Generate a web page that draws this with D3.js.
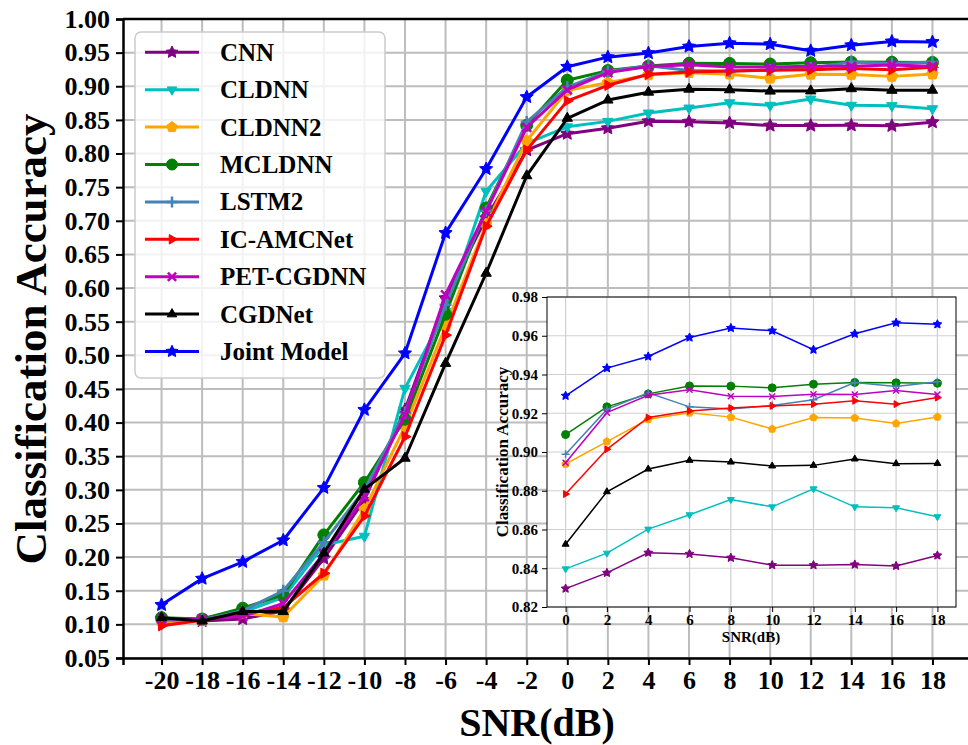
<!DOCTYPE html>
<html lang="en">
<head>
<meta charset="UTF-8">
<title>Classification Accuracy vs SNR</title>
<script src="https://d3js.org/d3.v7.min.js"></script>
<style>
  body { margin: 0; background: #fff; }
  text { font-family: "Liberation Serif", "Times New Roman", serif; font-weight: bold; }
</style>
</head>
<body>
<div id="chart"></div>
<script>
// SNR values (dB)
const snr = [-20, -18, -16, -14, -12, -10, -8, -6, -4, -2, 0, 2, 4, 6, 8, 10, 12, 14, 16, 18];
const insetSnr = [0, 2, 4, 6, 8, 10, 12, 14, 16, 18];

// accuracy per model
const cnn      = [0.108, 0.105, 0.108, 0.120, 0.198, 0.285, 0.419, 0.585, 0.704, 0.805, 0.8295, 0.8376, 0.8480, 0.8474, 0.8454, 0.8416, 0.8416, 0.8419, 0.8412, 0.8466];
const cldnn    = [0.100, 0.109, 0.118, 0.140, 0.218, 0.231, 0.451, 0.565, 0.744, 0.815, 0.8397, 0.8478, 0.8602, 0.8676, 0.8755, 0.8717, 0.8810, 0.8717, 0.8712, 0.8666];
const cldnn2   = [0.104, 0.106, 0.116, 0.111, 0.173, 0.271, 0.394, 0.543, 0.695, 0.819, 0.8938, 0.9054, 0.9169, 0.9202, 0.9180, 0.9119, 0.9178, 0.9176, 0.9147, 0.9181];
const mcldnn   = [0.110, 0.108, 0.124, 0.144, 0.233, 0.311, 0.405, 0.561, 0.719, 0.842, 0.9090, 0.9233, 0.9300, 0.9341, 0.9340, 0.9331, 0.9350, 0.9359, 0.9357, 0.9355];
const lstm2    = [0.106, 0.107, 0.120, 0.150, 0.222, 0.300, 0.415, 0.575, 0.715, 0.847, 0.8988, 0.9220, 0.9305, 0.9233, 0.9222, 0.9240, 0.9270, 0.9359, 0.9338, 0.9362];
const icamcnet = [0.098, 0.106, 0.116, 0.125, 0.176, 0.261, 0.379, 0.530, 0.692, 0.805, 0.8783, 0.9014, 0.9178, 0.9212, 0.9227, 0.9238, 0.9247, 0.9264, 0.9247, 0.9281];
const petcgdnn = [0.108, 0.108, 0.112, 0.131, 0.205, 0.290, 0.411, 0.590, 0.714, 0.839, 0.8945, 0.9203, 0.9293, 0.9321, 0.9288, 0.9286, 0.9298, 0.9297, 0.9317, 0.9297];
const cgdnet   = [0.110, 0.105, 0.119, 0.119, 0.206, 0.301, 0.347, 0.488, 0.622, 0.767, 0.8524, 0.8795, 0.8912, 0.8957, 0.8948, 0.8928, 0.8931, 0.8964, 0.8940, 0.8941];
const joint    = [0.129, 0.168, 0.193, 0.225, 0.303, 0.419, 0.503, 0.682, 0.777, 0.884, 0.9290, 0.9433, 0.9493, 0.9591, 0.9640, 0.9626, 0.9528, 0.9610, 0.9667, 0.9659];

const names = ["CNN", "CLDNN", "CLDNN2", "MCLDNN", "LSTM2", "IC-AMCNet", "PET-CGDNN", "CGDNet", "Joint Model"];
const values = [cnn, cldnn, cldnn2, mcldnn, lstm2, icamcnet, petcgdnn, cgdnet, joint];

const yTicks = d3.range(0.05, 1.0001, 0.05);
const insetYTicks = [0.82, 0.84, 0.86, 0.88, 0.90, 0.92, 0.94, 0.96, 0.98];

// styling
const colors = ["#800080", "#00bfbf", "#ffa500", "#008000", "#4682b4", "#ff0000", "#bf00bf", "#000000", "#0000ff"];
const markers = ["star", "triDown", "pentagon", "circle", "plus", "triRight", "x", "triUp", "star"];

const W = 968, H = 745;
const svg = d3.select("#chart").append("svg").attr("width", W).attr("height", H);

const x = d3.scaleLinear().domain([-21.9, 19.9]).range([123, 971]);
const y = d3.scaleLinear().domain([0.05, 1.0]).range([658, 19]);

function markerPath(type, r) {
  const p = d3.path();
  if (type === "circle") {
    p.arc(0, 0, r, 0, 2 * Math.PI);
  } else if (type === "star") {
    for (let i = 0; i < 10; i++) {
      const a = -Math.PI / 2 + i * Math.PI / 5;
      const rr = i % 2 === 0 ? r * 1.15 : r * 0.55;
      if (i === 0) p.moveTo(rr * Math.cos(a), rr * Math.sin(a)); else p.lineTo(rr * Math.cos(a), rr * Math.sin(a));
    }
    p.closePath();
  } else if (type === "pentagon") {
    for (let i = 0; i < 5; i++) {
      const a = -Math.PI / 2 + i * 2 * Math.PI / 5;
      if (i === 0) p.moveTo(r * Math.cos(a), r * Math.sin(a)); else p.lineTo(r * Math.cos(a), r * Math.sin(a));
    }
    p.closePath();
  } else if (type.startsWith("tri")) {
    const rot = { triUp: -Math.PI / 2, triDown: Math.PI / 2, triRight: 0 }[type];
    for (let i = 0; i < 3; i++) {
      const a = rot + i * 2 * Math.PI / 3;
      if (i === 0) p.moveTo(r * Math.cos(a), r * Math.sin(a)); else p.lineTo(r * Math.cos(a), r * Math.sin(a));
    }
    p.closePath();
  } else if (type === "plus") {
    p.moveTo(-r, 0); p.lineTo(r, 0); p.moveTo(0, -r); p.lineTo(0, r);
  } else if (type === "x") {
    const k = r * 0.75;
    p.moveTo(-k, -k); p.lineTo(k, k); p.moveTo(-k, k); p.lineTo(k, -k);
  }
  return p.toString();
}

function drawMarkers(g, pts, type, color, r, lw) {
  const stroked = type === "plus" || type === "x";
  g.selectAll(null).data(pts).enter().append("path")
    .attr("transform", d => `translate(${d[0]},${d[1]})`)
    .attr("d", markerPath(type, r))
    .attr("fill", stroked ? "none" : color)
    .attr("stroke", color)
    .attr("stroke-width", stroked ? lw : 1);
}

// ---------- main axes ----------
const grid = svg.append("g");
grid.selectAll(".vg").data(snr).enter().append("line")
  .attr("x1", d => x(d)).attr("x2", d => x(d)).attr("y1", y(1.0)).attr("y2", y(0.05))
  .attr("stroke", "#bdbdbd").attr("stroke-width", 2);
grid.selectAll(".hg").data(yTicks).enter().append("line")
  .attr("x1", 123).attr("x2", W).attr("y1", d => y(d)).attr("y2", d => y(d))
  .attr("stroke", "#bdbdbd").attr("stroke-width", 2);

const line = d3.line().x(d => x(d[0])).y(d => y(d[1]));
values.forEach((vals, i) => {
  const pts = snr.map((s, j) => [s, vals[j]]);
  const g = svg.append("g");
  g.append("path").datum(pts).attr("d", line).attr("fill", "none")
    .attr("stroke", colors[i]).attr("stroke-width", 3).attr("stroke-linejoin", "round");
  drawMarkers(g, pts.map(p => [x(p[0]), y(p[1])]), markers[i], colors[i], 6, 2.5);
});

const yAxis = svg.append("g").attr("transform", "translate(123,0)")
  .call(d3.axisLeft(y).tickValues(yTicks).tickFormat(d3.format(".2f")).tickSize(7).tickPadding(6));
const xAxis = svg.append("g").attr("transform", `translate(0,${y(0.05)})`)
  .call(d3.axisBottom(x).tickValues(snr).tickFormat(d => String(d)).tickSize(7).tickPadding(6));
[yAxis, xAxis].forEach(a => {
  a.select(".domain").attr("stroke-width", 2.5);
  a.selectAll(".tick line").attr("stroke-width", 2);
  a.selectAll("text").attr("font-size", 26).attr("fill", "#000");
});
svg.append("line").attr("x1", 123).attr("x2", W).attr("y1", y(1.0)).attr("y2", y(1.0))
  .attr("stroke", "#000").attr("stroke-width", 2.5);

svg.append("text").attr("x", 537).attr("y", 722).attr("text-anchor", "middle")
  .attr("dominant-baseline", "central").attr("font-size", 40).text("SNR(dB)");
svg.append("text").attr("transform", "translate(31,339) rotate(-90)").attr("text-anchor", "middle")
  .attr("dominant-baseline", "central").attr("font-size", 45).text("Classification Accuracy");

// ---------- legend ----------
const leg = svg.append("g");
leg.append("rect").attr("x", 135).attr("y", 32).attr("width", 250).attr("height", 346).attr("rx", 6)
  .attr("fill", "#fff").attr("fill-opacity", 0.8).attr("stroke", "#cccccc").attr("stroke-width", 1.5);
names.forEach((n, i) => {
  const cy = 52.3 + i * 37.4;
  leg.append("line").attr("x1", 145).attr("x2", 199).attr("y1", cy).attr("y2", cy)
    .attr("stroke", colors[i]).attr("stroke-width", 3);
  drawMarkers(leg, [[172, cy]], markers[i], colors[i], 5.5, 2.5);
  leg.append("text").attr("x", 220).attr("y", cy).attr("dominant-baseline", "central")
    .attr("font-size", 25).text(n);
});

// ---------- inset ----------
const ix = d3.scaleLinear().domain([-0.9, 18.9]).range([547, 956]);
const iy = d3.scaleLinear().domain([0.82, 0.98]).range([607, 297]);
const inset = svg.append("g");
inset.append("rect").attr("x", 547).attr("y", 297).attr("width", 409).attr("height", 310).attr("fill", "#fff");
inset.selectAll(".ivg").data(insetSnr).enter().append("line")
  .attr("x1", d => ix(d)).attr("x2", d => ix(d)).attr("y1", 297).attr("y2", 607)
  .attr("stroke", "#d0d0d0").attr("stroke-width", 1.2);
inset.selectAll(".ihg").data(insetYTicks).enter().append("line")
  .attr("x1", 547).attr("x2", 956).attr("y1", d => iy(d)).attr("y2", d => iy(d))
  .attr("stroke", "#d0d0d0").attr("stroke-width", 1.2);

const iline = d3.line().x(d => ix(d[0])).y(d => iy(d[1]));
values.forEach((vals, i) => {
  const pts = insetSnr.map(s => [s, vals[snr.indexOf(s)]]);
  const g = inset.append("g");
  g.append("path").datum(pts).attr("d", iline).attr("fill", "none")
    .attr("stroke", colors[i]).attr("stroke-width", 1.5);
  drawMarkers(g, pts.map(p => [ix(p[0]), iy(p[1])]), markers[i], colors[i], 4, 1.5);
});
inset.append("rect").attr("x", 547).attr("y", 297).attr("width", 409).attr("height", 310)
  .attr("fill", "none").attr("stroke", "#000").attr("stroke-width", 1);

const iyAxis = inset.append("g").attr("transform", "translate(547,0)")
  .call(d3.axisLeft(iy).tickValues(insetYTicks).tickFormat(d3.format(".2f")).tickSize(5).tickPadding(4));
const ixAxis = inset.append("g").attr("transform", "translate(0,607)")
  .call(d3.axisBottom(ix).tickValues(insetSnr).tickFormat(d => String(d)).tickSize(5).tickPadding(2));
[iyAxis, ixAxis].forEach(a => {
  a.select(".domain").remove();
  a.selectAll("text").attr("font-size", 15).attr("fill", "#000");
});
inset.append("text").attr("x", 751).attr("y", 637).attr("text-anchor", "middle")
  .attr("dominant-baseline", "central").attr("font-size", 15).text("SNR(dB)");
inset.append("text").attr("transform", "translate(502,452) rotate(-90)").attr("text-anchor", "middle")
  .attr("dominant-baseline", "central").attr("font-size", 17).text("Classification Accuracy");
</script>
</body>
</html>
